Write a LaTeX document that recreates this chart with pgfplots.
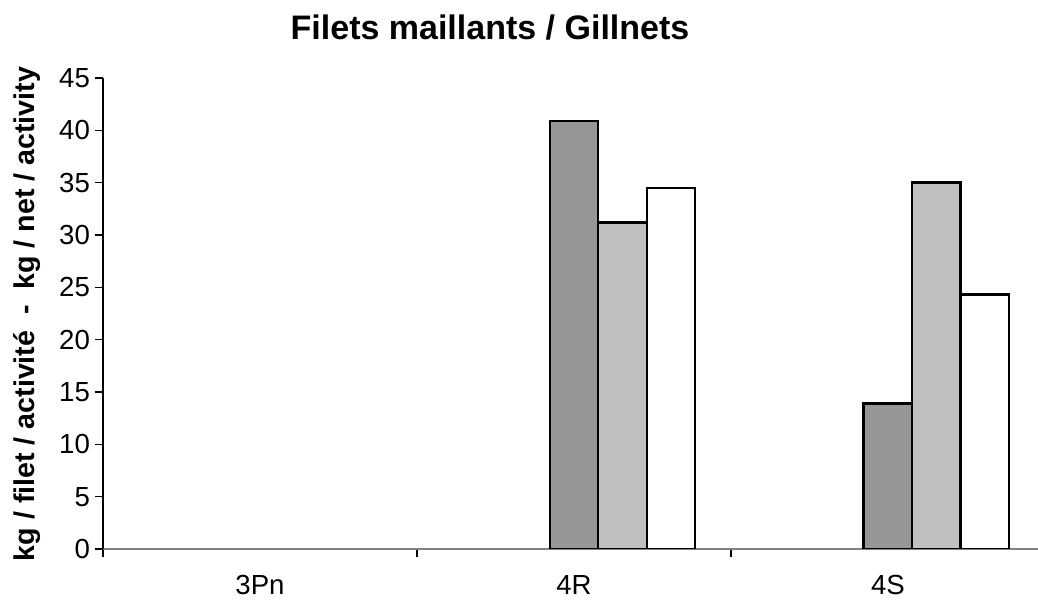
\documentclass[border=0pt]{standalone}
\usepackage{fontspec}
\setmainfont{Liberation Sans}
\usepackage{pgfplots}
\pgfplotsset{compat=1.18}
\definecolor{barA}{RGB}{150,150,150}
\definecolor{barB}{RGB}{192,192,192}
\definecolor{axgray}{RGB}{128,128,128}

\begin{document}
\begin{tikzpicture}
\useasboundingbox (0,0) rectangle (519pt,301.5pt);
\begin{axis}[
  at={(51.5pt,27pt)}, anchor=south west,
  scale only axis, width=467.5pt, height=235.5pt,
  xmin=-0.5, xmax=2.478, ymin=0, ymax=45,
  axis x line*=bottom, axis y line*=left,
  x axis line style={axgray, line width=0.8pt, -},
  y axis line style={black, line width=0.6pt, -},
  xtick={-0.5,0.5,1.5}, xticklabels={},
  extra x ticks={0,1,2}, extra x tick labels={3Pn,4R,4S},
  extra x tick style={major tick length=0pt, xticklabel style={yshift=-9.5pt}},
  ytick={0,5,...,45},
  yticklabel style={xshift=1pt},
  tick align=outside, major tick length=4pt,
  tick style={black, line width=0.6pt},
  tick label style={font=\fontsize{13.8}{16}\selectfont},
  /pgf/number format/assume math mode=true,
  ybar, bar width=0.1545,
  every axis plot/.append style={draw=black, line width=1.2pt},
]
% zone 3Pn: no catch recorded
\addplot[fill=barA, bar shift=0] coordinates {(1,40.9) (2,13.9)};
\addplot[fill=barB, bar shift=0.1545] coordinates {(1,31.2) (2,35.0)};
\addplot[fill=white, bar shift=0.309] coordinates {(1,34.5) (2,24.3)};
\end{axis}
\node[font=\bfseries\fontsize{17}{20}\selectfont, anchor=base] at (245pt,281.5pt) {Filets maillants / Gillnets};
\node[font=\bfseries\fontsize{14.3}{16}\selectfont, rotate=90] at (13.5pt,144.5pt) {kg / filet / activité \ - \ kg / net / activity};
\end{tikzpicture}
\end{document}
